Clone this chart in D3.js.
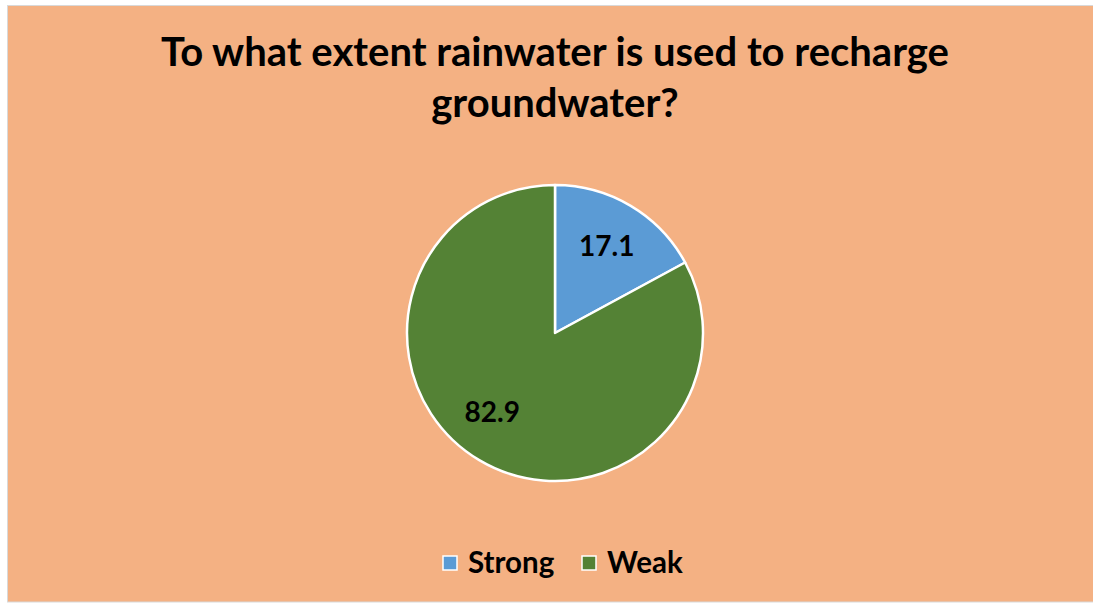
<!DOCTYPE html>
<html><head><meta charset="utf-8">
<script src="https://cdn.jsdelivr.net/npm/d3@7"></script>
<style>html,body{margin:0;padding:0;background:#fff;}svg{display:block;}</style>
</head><body>
<svg id="c" width="1093" height="603"></svg>
<script>
const categories = ["Strong", "Weak"];
const values = [17.1, 82.9];
const colors = ["#5B9BD5", "#548235"];
const titleLines = ["To what extent rainwater is used to recharge", "groundwater?"];

const svg = d3.select("#c");
const font = "Lato, 'Open Sans', sans-serif";
svg.append("rect").attr("x", 7.5).attr("y", 5.5).attr("width", 1090).attr("height", 596.5)
  .attr("fill", "#F4B183").attr("stroke", "#D9D9D9").attr("stroke-width", 1);

svg.append("g").selectAll("text").data(titleLines).join("text")
  .attr("x", 555).attr("y", (d, i) => 66 + i * 51)
  .attr("text-anchor", "middle").attr("font-family", font).attr("font-weight", "bold")
  .attr("font-size", 40).attr("fill", "#000").text(d => d);

const cx = 555, cy = 333, r = 148;
const pie = d3.pie().sort(null).value(d => d.v);
const data = pie(categories.map((c, i) => ({c, v: values[i], col: colors[i]})));
const arc = d3.arc().innerRadius(0).outerRadius(r);
const g = svg.append("g").attr("transform", `translate(${cx},${cy})`);
g.selectAll("path").data(data).join("path")
  .attr("d", arc).attr("fill", d => d.data.col)
  .attr("stroke", "#fff").attr("stroke-width", 2.5).attr("stroke-linejoin", "round");
// label placement: along slice mid-angle, large slices shifted a bit further round (as Excel does)
function labelPos(d) {
  let a = (d.startAngle + d.endAngle) / 2;
  if (d.endAngle - d.startAngle > Math.PI) a += 0.134;
  const rho = 101;
  return [Math.sin(a) * rho, -Math.cos(a) * rho];
}
g.selectAll("text").data(data).join("text")
  .attr("transform", d => `translate(${labelPos(d)})`)
  .attr("text-anchor", "middle").attr("dy", "0.35em")
  .attr("font-family", font).attr("font-weight", "bold").attr("font-size", 28)
  .attr("fill", "#000").text(d => d.data.v.toFixed(1));

const legendX = [443, 582];
const lg = svg.append("g");
const items = lg.selectAll("g").data(categories).join("g")
  .attr("transform", (d, i) => `translate(${legendX[i]},556)`);
items.append("rect").attr("width", 14).attr("height", 14)
  .attr("fill", (d, i) => colors[i]).attr("stroke", "#fff").attr("stroke-width", 1.5);
items.append("text").attr("x", 25).attr("y", 7).attr("dy", "0.35em")
  .attr("font-family", font).attr("font-weight", "bold").attr("font-size", 29.5)
  .attr("fill", "#000").text(d => d);
</script>
</body></html>
